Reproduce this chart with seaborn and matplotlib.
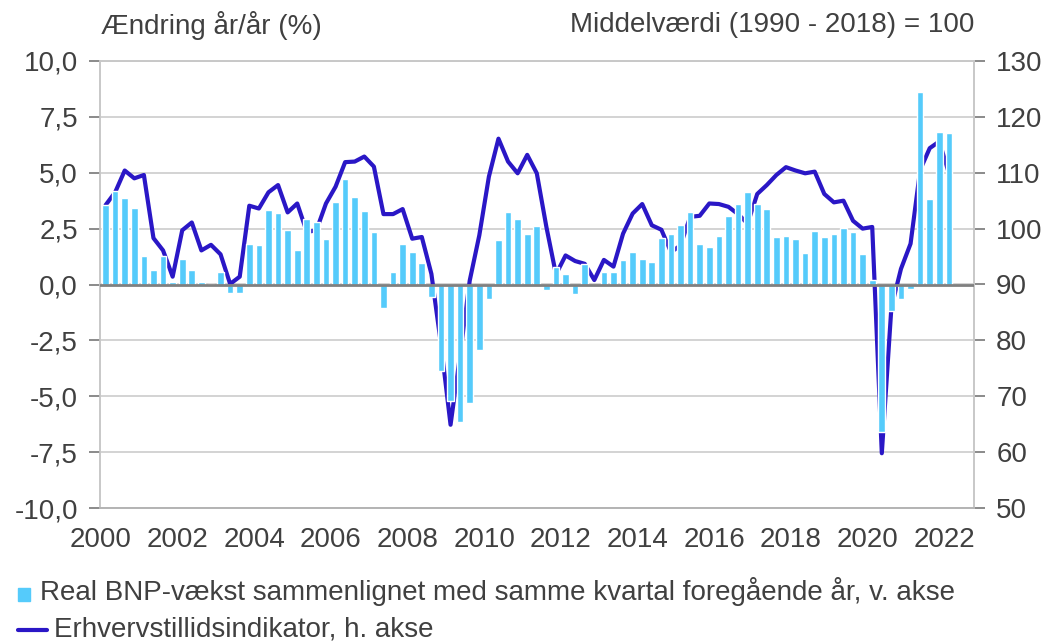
import matplotlib
matplotlib.use("Agg")
import matplotlib.pyplot as plt
import matplotlib.ticker as mticker
from matplotlib.lines import Line2D
from matplotlib.patches import Rectangle
import numpy as np
import pandas as pd
import seaborn as sns

# quarterly data 2000Q1 - 2022Q1
gdp_growth = [
    3.56, 4.19, 3.86, 3.41,   # 2000
    1.29, 0.63, 1.26, 0.09,   # 2001
    1.16, 0.66, 0.09, 0.02,   # 2002
    0.54, -0.39, -0.39, 1.80,  # 2003
    1.76, 3.32, 3.21, 2.42,   # 2004
    1.56, 2.94, 2.81, 2.04,   # 2005
    3.71, 4.74, 3.92, 3.30,   # 2006
    2.36, -1.05, 0.54, 1.83,  # 2007
    1.46, 0.98, -0.54, -3.87,  # 2008
    -5.23, -6.17, -5.30, -2.91,  # 2009
    -0.65, 2.00, 3.26, 2.91,  # 2010
    2.28, 2.60, -0.24, 0.77,  # 2011
    0.48, -0.42, 0.90, -0.05,  # 2012
    0.57, 0.57, 1.11, 1.47,   # 2013
    1.16, 1.02, 2.06, 2.24,   # 2014
    2.66, 3.23, 1.83, 1.68,   # 2015
    2.16, 3.06, 3.62, 4.14,   # 2016
    3.62, 3.38, 2.12, 2.16,   # 2017
    2.03, 1.41, 2.39, 2.13,   # 2018
    2.25, 2.55, 2.33, 1.35,   # 2019
    0.18, -6.58, -1.20, -0.66,  # 2020
    -0.21, 8.63, 3.81, 6.83,  # 2021
    6.79,                     # 2022
]

confidence = [
    104.2, 106.5, 110.4, 109.0,
    109.6, 98.3, 96.1, 91.4,
    99.7, 101.1, 96.1, 97.1,
    95.4, 90.1, 91.4, 104.1,
    103.6, 106.5, 107.8, 102.9,
    104.5, 99.4, 99.7, 104.5,
    107.5, 111.9, 112.0, 112.9,
    111.1, 102.6, 102.6, 103.5,
    98.2, 98.5, 91.9, 79.3,
    64.9, 77.5, 90.7, 98.8,
    109.3, 116.1, 112.0, 109.9,
    113.2, 109.9, 100.3, 91.8,
    95.2, 94.2, 93.7, 90.8,
    94.4, 93.2, 99.1, 102.7,
    104.4, 100.6, 99.8, 95.8,
    97.0, 102.1, 102.3, 104.5,
    104.4, 103.9, 102.6, 100.9,
    106.2, 107.8, 109.6, 111.0,
    110.4, 109.9, 110.2, 106.2,
    104.7, 105.0, 101.4, 100.0,
    100.3, 59.8, 85.9, 92.8,
    97.3, 110.5, 114.4, 115.6,
    109.9,
]

year_ticks = [2000, 2002, 2004, 2006, 2008, 2010, 2012, 2014, 2016, 2018, 2020, 2022]
left_ticks = [-10, -7.5, -5, -2.5, 0, 2.5, 5, 7.5, 10]
right_ticks = [50, 60, 70, 80, 90, 100, 110, 120, 130]

title_left = "Ændring år/år (%)"
title_right = "Middelværdi (1990 - 2018) = 100"
label_bars = "Real BNP-vækst sammenlignet med samme kvartal foregående år, v. akse"
label_line = "Erhvervstillidsindikator, h. akse"

quarters = pd.period_range("2000Q1", "2022Q1", freq="Q")
xpos = quarters.year + (quarters.quarter - 1) / 4 + 0.125
df = pd.DataFrame({"x": xpos, "gdp": gdp_growth, "conf": confidence})

bar_color = "#55CBFB"
line_color = "#2A17C6"
text_color = "#404040"

sns.set_style("white")
plt.rcParams["font.family"] = ["Liberation Sans", "DejaVu Sans"]
plt.rcParams["font.size"] = 20

fig = plt.figure(figsize=(10.44, 6.42), dpi=100)
ax = fig.add_axes([100 / 1044, 1 - 508 / 642, 874 / 1044, 447 / 642])
ax2 = ax.twinx()

# line axis sits underneath, bars on top of it
ax.set_zorder(2)
ax.patch.set_visible(False)
ax2.set_zorder(1)

ax2.grid(axis="y", color="#cccccc", linewidth=1.2, zorder=0)
ax2.set_axisbelow(True)
sns.lineplot(data=df, x="x", y="conf", color=line_color, linewidth=3, ax=ax2, zorder=4)
ax2.set_ylim(50, 130)
ax2.set_yticks(right_ticks)
ax2.set_ylabel("")

sns.barplot(data=df, x="x", y="gdp", native_scale=True, width=0.7,
            color=bar_color, saturation=1, errorbar=None, ax=ax, zorder=2)
ax.axhline(0, color="#808080", linewidth=2, zorder=3)

ax.set_xlim(1999.98, 2022.78)
ax2.set_xlim(1999.98, 2022.78)
ax.set_ylim(-10, 10)
ax.set_xticks(year_ticks)
ax.set_yticks(left_ticks)
ax.yaxis.set_major_formatter(mticker.FuncFormatter(lambda v, p: f"{v:.1f}".replace(".", ",")))
ax.set_xlabel("")
ax.set_ylabel("")

for a in (ax, ax2):
    for s in a.spines.values():
        s.set_color("#c8c8c8")
        s.set_linewidth(1.2)
ax.spines["bottom"].set_color("#b0b0b0")

ax.tick_params(axis="x", direction="out", length=9, width=1.6, color="#555555",
               labelcolor=text_color, labelsize=20, pad=5)
ax.tick_params(axis="y", direction="out", length=8, width=1.2, color="#777777",
               labelcolor=text_color, labelsize=20, pad=8)
ax2.tick_params(axis="y", direction="out", length=8, width=1.2, color="#777777",
                labelcolor=text_color, labelsize=20, pad=8)

fig.text(101 / 1044, 1 - 25 / 642, title_left, ha="left", va="center",
         color=text_color, fontsize=20)
fig.text(974 / 1044, 1 - 25 / 642, title_right, ha="right", va="center",
         color=text_color, fontsize=20)

# legend, drawn by hand to match the layout
fig.patches.append(Rectangle((18 / 1044, 1 - 601 / 642), 12 / 1044, 13 / 642,
                             transform=fig.transFigure, color=bar_color))
fig.text(40 / 1044, 1 - 592 / 642, label_bars, ha="left", va="center",
         color=text_color, fontsize=20)
fig.lines.append(Line2D([18 / 1044, 47 / 1044], [1 - 630 / 642, 1 - 630 / 642],
                        transform=fig.transFigure, color=line_color, linewidth=3))
fig.text(54 / 1044, 1 - 630 / 642, label_line, ha="left", va="center",
         color=text_color, fontsize=20)

fig.savefig("out.png", dpi=100)
